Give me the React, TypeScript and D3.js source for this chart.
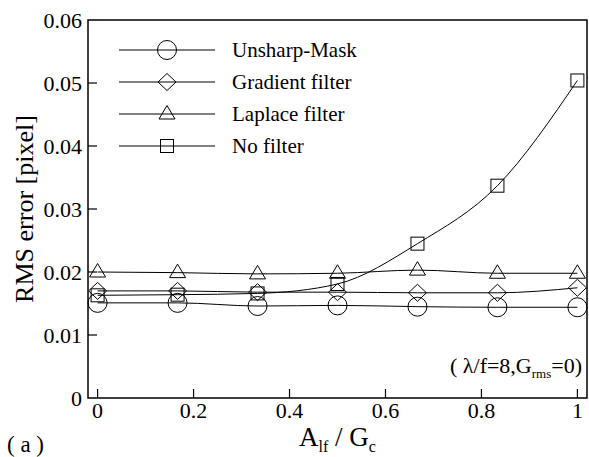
import React from 'react';
import * as d3 from 'd3';

// x positions: A_lf / G_c
const xs = [0, 1 / 6, 2 / 6, 3 / 6, 4 / 6, 5 / 6, 1];
const unsharp = [0.0151, 0.0151, 0.0146, 0.0147, 0.0145, 0.0144, 0.0144];
const gradient = [0.017, 0.017, 0.0168, 0.0168, 0.0167, 0.0167, 0.0175];
const laplace = [0.02, 0.0199, 0.0197, 0.0198, 0.0203, 0.0198, 0.0198];
const noFilter = [0.0163, 0.0164, 0.0166, 0.0181, 0.0245, 0.0337, 0.0504];

const seriesNames = ['Unsharp-Mask', 'Gradient filter', 'Laplace filter', 'No filter'];
const seriesShapes = ['circle', 'diamond', 'triangle', 'square'];
const seriesValues = [unsharp, gradient, laplace, noFilter];

const yTicks = [0, 0.01, 0.02, 0.03, 0.04, 0.05, 0.06];
const yTickLabels = ['0', '0.01', '0.02', '0.03', '0.04', '0.05', '0.06'];
const xTicks = [0, 0.2, 0.4, 0.6, 0.8, 1];
const xTickLabels = ['0', '0.2', '0.4', '0.6', '0.8', '1'];

const W = 589;
const H = 457;
const FONT = "'Liberation Serif', 'Times New Roman', Times, serif";

const Marker = ({ shape, x, y }: { shape: string; x: number; y: number }) => {
  const p = { fill: 'none', stroke: '#000', strokeWidth: 1 };
  if (shape === 'circle') return <circle cx={x} cy={y} r={9.5} {...p} />;
  if (shape === 'diamond')
    return <path d={`M${x},${y - 8.5}L${x + 9},${y}L${x},${y + 8.5}L${x - 9},${y}Z`} {...p} />;
  if (shape === 'triangle')
    return <path d={`M${x},${y - 8.5}L${x + 8},${y + 5}L${x - 8},${y + 5}Z`} {...p} />;
  return <rect x={x - 6.5} y={y - 6.5} width={13} height={13} {...p} />;
};

const App: React.FC = () => {
  const x = d3.scaleLinear().domain([-0.02, 1.02]).range([88, 587]);
  const y = d3.scaleLinear().domain([0, 0.06]).range([398, 20]);

  const line = d3
    .line<number>()
    .x((_, i) => x(xs[i]))
    .y((d) => y(d))
    .curve(d3.curveMonotoneX);

  const [x0, x1] = x.range();
  const [yb, yt] = y.range();

  return (
    <svg
      width={W}
      height={H}
      style={{ position: 'absolute', left: 0, top: 0, background: '#fff', fontFamily: FONT }}
    >
      {/* frame */}
      <rect x={x0} y={yt} width={x1 - x0} height={yb - yt} fill="none" stroke="#000" strokeWidth={1.5} />

      {/* y ticks */}
      {yTicks.map((t, i) => (
        <g key={'y' + i}>
          {i > 0 && i < yTicks.length - 1 && (
            <line x1={x0} x2={x0 + 9} y1={y(t)} y2={y(t)} stroke="#000" strokeWidth={1.2} />
          )}
          <text x={x0 - 6} y={y(t)} dy="0.35em" textAnchor="end" fontSize={22}>
            {yTickLabels[i]}
          </text>
        </g>
      ))}

      {/* x ticks */}
      {xTicks.map((t, i) => (
        <g key={'x' + i}>
          <line x1={x(t)} x2={x(t)} y1={yb} y2={yb - 9} stroke="#000" strokeWidth={1.2} />
          <text x={x(t)} y={418} textAnchor="middle" fontSize={22}>
            {xTickLabels[i]}
          </text>
        </g>
      ))}

      {/* series */}
      {seriesValues.map((vals, s) => (
        <g key={'s' + s}>
          <path d={line(vals) || ''} fill="none" stroke="#000" strokeWidth={1} />
          {vals.map((v, i) => (
            <Marker key={i} shape={seriesShapes[s]} x={x(xs[i])} y={y(v)} />
          ))}
        </g>
      ))}

      {/* legend */}
      {seriesNames.map((name, i) => {
        const ly = 50 + i * 32;
        return (
          <g key={'l' + i}>
            <line x1={119} x2={215} y1={ly} y2={ly} stroke="#000" strokeWidth={1} />
            <Marker shape={seriesShapes[i]} x={167} y={ly} />
            <text x={232} y={ly} dy="0.35em" fontSize={21}>
              {name}
            </text>
          </g>
        );
      })}

      {/* annotation */}
      <text x={582} y={373} textAnchor="end" fontSize={22}>
        ( λ/f=8,G<tspan fontSize={13} dy={5}>rms</tspan>
        <tspan dy={-5}>=0)</tspan>
      </text>

      {/* axis titles */}
      <text
        transform={`translate(33,${(yb + yt) / 2}) rotate(-90)`}
        textAnchor="middle"
        fontSize={26}
      >
        RMS error [pixel]
      </text>
      <text x={(x0 + x1) / 2} y={446} textAnchor="middle" fontSize={27}>
        A<tspan fontSize={16} dy={6}>lf</tspan>
        <tspan dy={-6}> / G</tspan>
        <tspan fontSize={16} dy={6}>c</tspan>
      </text>
      <text x={7} y={452} fontSize={23}>
        ( a )
      </text>
    </svg>
  );
};

export default App;
